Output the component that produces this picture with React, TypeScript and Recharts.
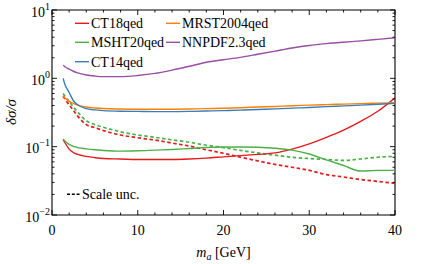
import React from 'react';
import { LineChart, Line, XAxis, YAxis, ReferenceArea, Legend } from 'recharts';

// ---- data ----
const massGeV = [1.3, 1.5, 2, 2.5, 3, 4, 5, 6, 8, 10, 12, 14, 16, 18, 20, 22, 24, 26, 28, 30, 32, 34, 36, 38, 40];
const ct18qed = [0.128, 0.115, 0.092, 0.082, 0.077, 0.072, 0.069, 0.067, 0.066, 0.065, 0.065, 0.065, 0.066, 0.068, 0.071, 0.074, 0.077, 0.081, 0.092, 0.11, 0.137, 0.175, 0.235, 0.33, 0.52];
const mrst2004qed = [0.55, 0.52, 0.46, 0.43, 0.405, 0.38, 0.368, 0.361, 0.355, 0.352, 0.352, 0.353, 0.356, 0.36, 0.365, 0.372, 0.38, 0.388, 0.397, 0.405, 0.413, 0.42, 0.427, 0.434, 0.44];
const msht20qed = [0.128, 0.121, 0.108, 0.101, 0.097, 0.093, 0.09, 0.088, 0.086, 0.087, 0.089, 0.091, 0.094, 0.097, 0.099, 0.099, 0.098, 0.095, 0.089, 0.078, 0.064, 0.053, 0.044, 0.045, 0.045];
const nnpdf23qed = [1.55, 1.48, 1.36, 1.27, 1.2, 1.12, 1.08, 1.06, 1.06, 1.1, 1.18, 1.32, 1.5, 1.72, 1.87, 2.03, 2.25, 2.5, 2.78, 3.03, 3.22, 3.38, 3.53, 3.72, 3.93];
const ct14qed = [1.0, 0.82, 0.62, 0.47, 0.41, 0.36, 0.345, 0.337, 0.33, 0.328, 0.326, 0.326, 0.328, 0.332, 0.337, 0.343, 0.35, 0.357, 0.366, 0.375, 0.385, 0.395, 0.405, 0.417, 0.43];
const ct18Scale = [0.55, 0.5, 0.41, 0.34, 0.28, 0.21, 0.19, 0.172, 0.148, 0.135, 0.125, 0.113, 0.102, 0.09, 0.08, 0.07, 0.062, 0.055, 0.05, 0.045, 0.039, 0.036, 0.033, 0.031, 0.029];
const msht20Scale = [0.6, 0.55, 0.46, 0.38, 0.32, 0.24, 0.21, 0.192, 0.165, 0.148, 0.137, 0.126, 0.116, 0.105, 0.097, 0.088, 0.081, 0.075, 0.07, 0.067, 0.065, 0.063, 0.066, 0.07, 0.072];

const xTicks = [0, 2, 4, 6, 8, 10, 12, 14, 16, 18, 20, 22, 24, 26, 28, 30, 32, 34, 36, 38, 40];
const yTicks: number[] = [];
for (let e = -2; e <= 0; e++) {
  for (let m = 1; m <= 9; m++) yTicks.push(Number((m * Math.pow(10, e)).toPrecision(3)));
}
yTicks.push(10);

const legendRows = [
  { name: 'CT18qed', color: '#e41a1c', col: 0, row: 0 },
  { name: 'MRST2004qed', color: '#ff7f00', col: 1, row: 0 },
  { name: 'MSHT20qed', color: '#4daf4a', col: 0, row: 1 },
  { name: 'NNPDF2.3qed', color: '#984ea3', col: 1, row: 1 },
  { name: 'CT14qed', color: '#377eb8', col: 0, row: 2 },
];

const data = massGeV.map((x, i) => ({
  x,
  ct18: ct18qed[i],
  mrst: mrst2004qed[i],
  msht: msht20qed[i],
  nnpdf: nnpdf23qed[i],
  ct14: ct14qed[i],
  ct18s: ct18Scale[i],
  mshts: msht20Scale[i],
}));

// ---- layout constants ----
const W = 424;
const H = 264;
const PL = 52;
const PR = 395;
const PT = 10;
const PB = 215;
const FONT = "'Liberation Serif', 'Times New Roman', 'DejaVu Serif', serif";
const TXT: React.CSSProperties = { fontFamily: FONT };

const XTick = (props: any) => {
  const { x, payload } = props;
  const v = payload.value;
  const major = v % 10 === 0;
  const len = major ? 5 : 2.5;
  return (
    <g>
      <line x1={x} x2={x} y1={PB} y2={PB - len} stroke="#000" strokeWidth={0.9} />
      <line x1={x} x2={x} y1={PT} y2={PT + len} stroke="#000" strokeWidth={0.9} />
      {major && (
        <text x={x} y={235} textAnchor="middle" fontSize={14} style={TXT} fill="#000">
          {v}
        </text>
      )}
    </g>
  );
};

const YTick = (props: any) => {
  const { y, payload } = props;
  const v = payload.value;
  const lg = Math.log10(v);
  const major = Math.abs(lg - Math.round(lg)) < 1e-6;
  const exp = Math.round(lg);
  const len = major ? 5 : 2.5;
  return (
    <g>
      <line x1={PL} x2={PL + len} y1={y} y2={y} stroke="#000" strokeWidth={0.9} />
      <line x1={PR} x2={PR - len} y1={y} y2={y} stroke="#000" strokeWidth={0.9} />
      {major && (
        <text x={PL - 2} y={y + 6.5} textAnchor="end" fontSize={14} style={TXT} fill="#000">
          10
          <tspan dy={-7} fontSize={10}>
            {exp < 0 ? '\u2212' + String(-exp) : String(exp)}
          </tspan>
        </text>
      )}
    </g>
  );
};

const XTitle = () => (
  <text x={(PL + PR) / 2} y={257} textAnchor="middle" fontSize={14} style={TXT} fill="#000">
    <tspan fontStyle="italic">m</tspan>
    <tspan fontStyle="italic" fontSize={10} dy={3}>a</tspan>
    <tspan dy={-3}> [GeV]</tspan>
  </text>
);

const YTitle = () => (
  <text
    x={16}
    y={112}
    transform="rotate(-90 16 112)"
    textAnchor="middle"
    fontSize={15}
    style={TXT}
    fontStyle="italic"
    fill="#000"
  >
    δσ/σ
  </text>
);

const LegendBox = () => (
  <svg width={W} height={H} style={{ position: 'absolute', left: 0, top: 0 }}>
    {legendRows.map((r) => {
      const lx = r.col === 0 ? 75 : 166;
      const ly = [23.3, 42.3, 61.7][r.row];
      return (
        <g key={r.name}>
          <line x1={lx} x2={lx + 14} y1={ly} y2={ly} stroke={r.color} strokeWidth={1.4} />
          <text x={lx + 16} y={ly + 5} fontSize={14} style={TXT} fill="#000">
            {r.name}
          </text>
        </g>
      );
    })}
    <line x1={67} x2={80} y1={194.3} y2={194.3} stroke="#000" strokeWidth={1.6} strokeDasharray="3 1.8" />
    <text x={82} y={199.3} fontSize={14} style={TXT} fill="#000">
      Scale unc.
    </text>
  </svg>
);

export default function App() {
  return (
    <div style={{ position: 'absolute', left: 0, top: 0, width: W, height: H, background: '#fff', fontFamily: FONT }}>
      <LineChart
        width={W}
        height={H}
        data={data}
        margin={{ top: PT, right: W - PR, bottom: 0, left: 0 }}
        style={{ fontFamily: FONT }}
      >
        <XAxis
          dataKey="x"
          type="number"
          domain={[0, 40]}
          ticks={xTicks}
          interval={0}
          tickLine={false}
          axisLine={false}
          tick={<XTick />}
          height={H - PB}
          label={<XTitle />}
          allowDataOverflow
        />
        <YAxis
          type="number"
          scale="log"
          domain={[0.01, 10]}
          ticks={yTicks}
          interval={0}
          tickLine={false}
          axisLine={false}
          tick={<YTick />}
          width={PL}
          label={<YTitle />}
          allowDataOverflow
        />
        <Line dataKey="ct18s" type="monotone" stroke="#e41a1c" strokeWidth={1.7} strokeDasharray="3.5 2.5" dot={false} isAnimationActive={false} />
        <Line dataKey="mshts" type="monotone" stroke="#4daf4a" strokeWidth={1.7} strokeDasharray="3.5 2.5" dot={false} isAnimationActive={false} />
        <Line dataKey="ct18" type="monotone" stroke="#e41a1c" strokeWidth={1.4} dot={false} isAnimationActive={false} />
        <Line dataKey="mrst" type="monotone" stroke="#ff7f00" strokeWidth={1.4} dot={false} isAnimationActive={false} />
        <Line dataKey="msht" type="monotone" stroke="#4daf4a" strokeWidth={1.4} dot={false} isAnimationActive={false} />
        <Line dataKey="nnpdf" type="monotone" stroke="#984ea3" strokeWidth={1.4} dot={false} isAnimationActive={false} />
        <Line dataKey="ct14" type="monotone" stroke="#377eb8" strokeWidth={1.4} dot={false} isAnimationActive={false} />
        <ReferenceArea x1={0} x2={40} y1={0.01} y2={10} fill="none" fillOpacity={0} stroke="#000" strokeWidth={1.1} ifOverflow="visible" />
        <Legend
          layout="horizontal"
          verticalAlign="middle"
          align="center"
          content={() => <LegendBox />}
          wrapperStyle={{ position: 'absolute', left: 0, top: 0, width: W, height: H, margin: 0, padding: 0, pointerEvents: 'none' }}
        />
      </LineChart>
    </div>
  );
}
